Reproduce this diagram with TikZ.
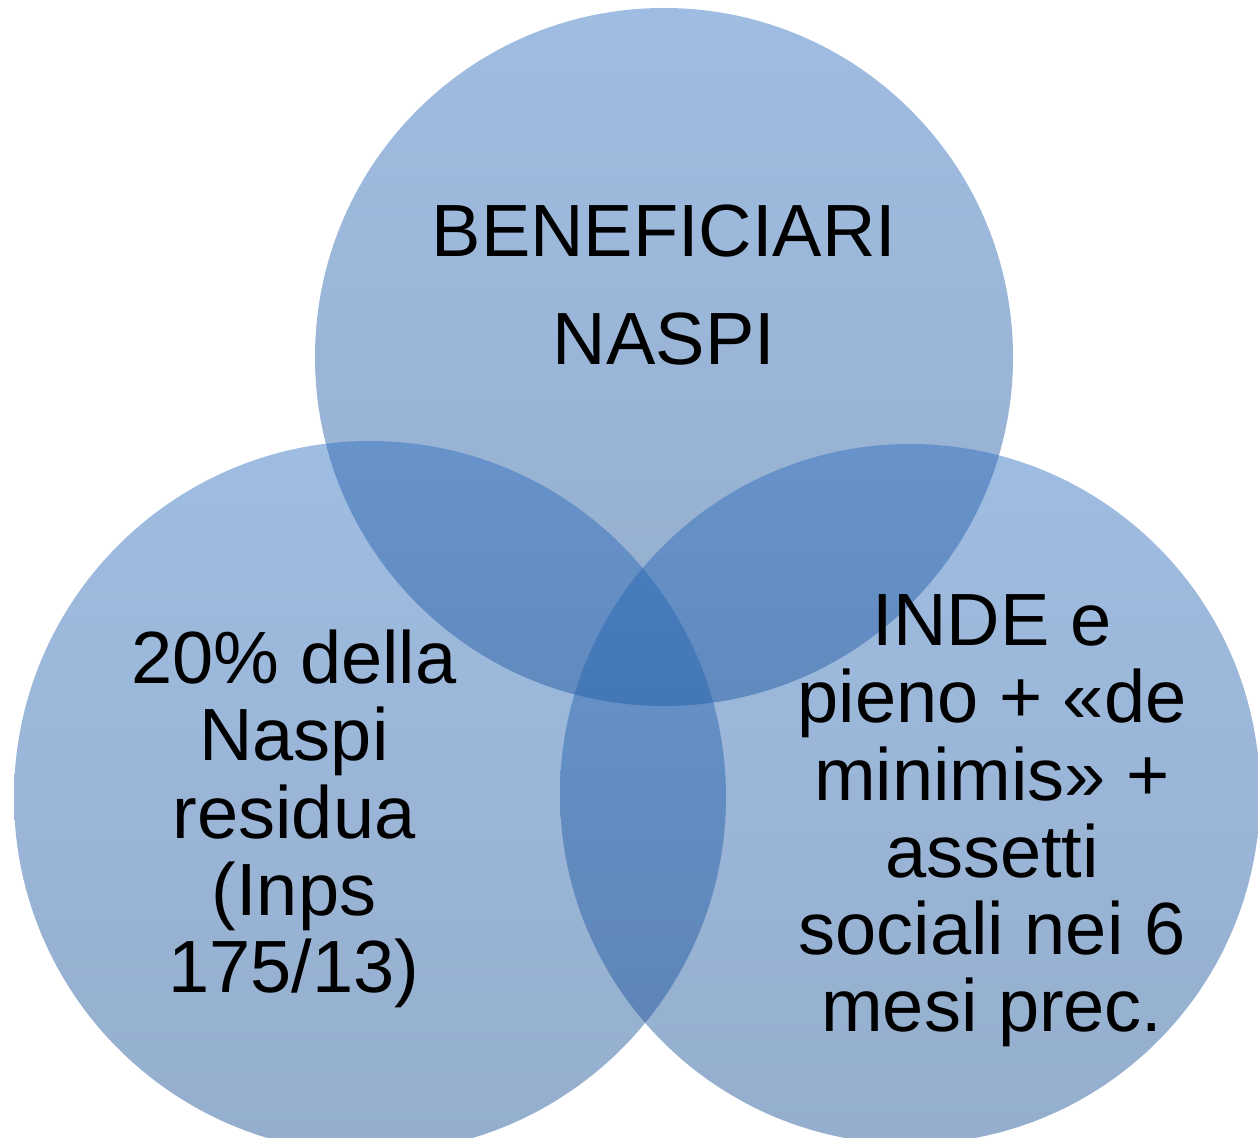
\documentclass[tikz,border=0pt]{standalone}
\usepackage{fontspec}
\setmainfont{Liberation Sans}
\definecolor{ctop}{RGB}{42,108,190}
\definecolor{cbot}{RGB}{20,75,144}
\begin{document}
\begin{tikzpicture}[x=0.5pt,y=-0.5pt,
  venn/.style={circle, inner sep=0pt, draw=none, top color=ctop, bottom color=cbot, fill opacity=0.45},
  label/.style={inner sep=0pt, align=center, text=black, text opacity=1, font=\fontsize{37pt}{38.6pt}\selectfont}]
\useasboundingbox (0,0) rectangle (1258,1138);
\node[venn, minimum size=349pt] (top) at (664,357) {};
\node[venn, minimum size=356pt] (left) at (370,797) {};
\node[venn, minimum size=350pt] (right) at (910,794) {};
\node[label, font=\fontsize{37pt}{54pt}\selectfont] (ttop) at (664,285.5) {BENEFICIARI\\NASPI};
\node[label] (tleft) at (294,819) {20\% della\\Naspi\\residua\\(Inps\\175/13)};
\node[label] (tright) at (992,821) {INDE e\\pieno + «de\\minimis» +\\assetti\\sociali nei 6\\mesi prec.};
\end{tikzpicture}
\end{document}
